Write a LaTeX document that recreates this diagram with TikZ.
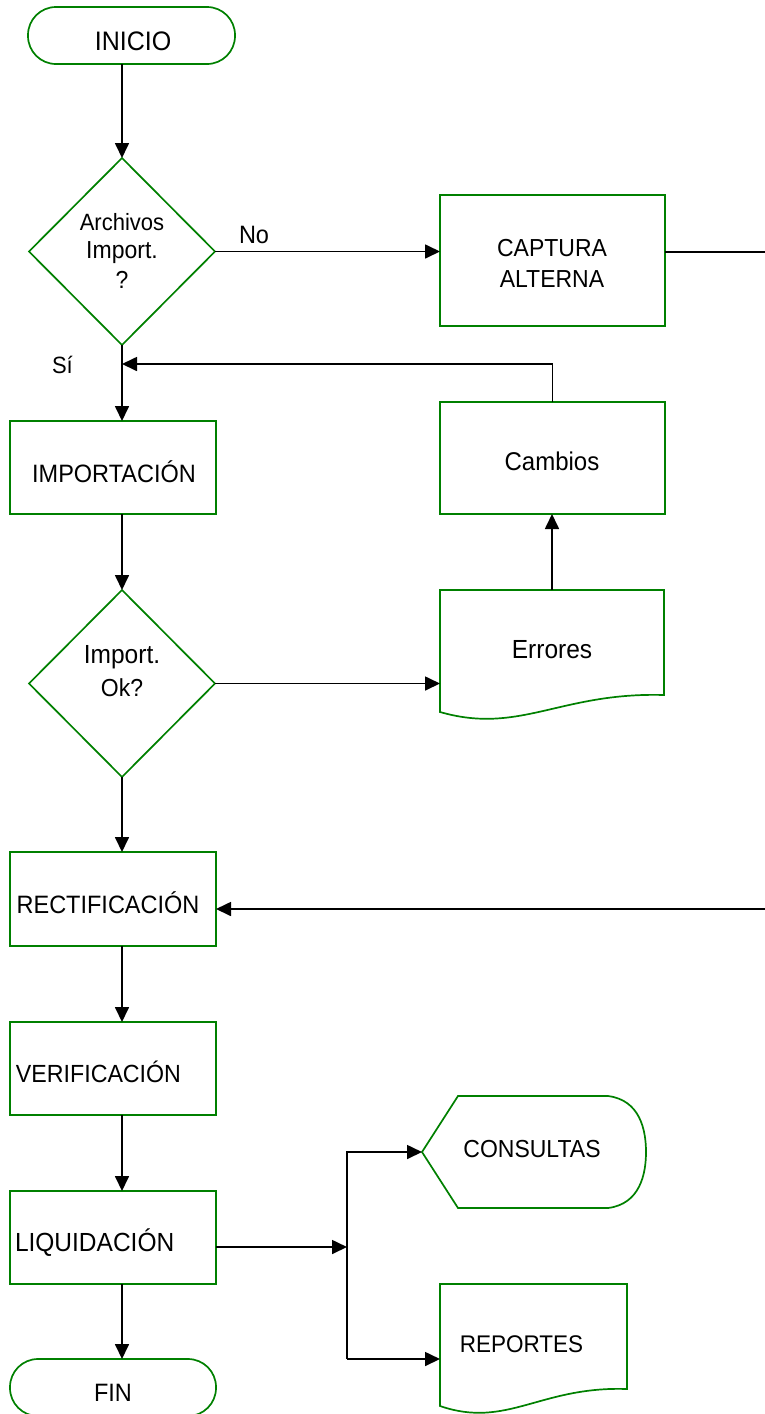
\documentclass[tikz,border=0pt]{standalone}
\usepackage{fontspec}
\setmainfont{Liberation Sans}
\usetikzlibrary{arrows.meta,shapes.geometric,calc}
\definecolor{fgreen}{RGB}{0,128,0}
\newcommand\vtext[1]{\scalebox{1}[1.07]{#1}}
\begin{document}
\begin{tikzpicture}[x=1pt,y=-1pt,
  gline/.style={draw=fgreen, line width=1.7pt, line join=miter},
  gbox/.style={draw=fgreen, line width=1.7pt, inner sep=0pt, outer sep=0pt, rectangle},
  gdia/.style={draw=fgreen, line width=1.7pt, inner sep=0pt, outer sep=0pt, diamond, minimum width=186pt, minimum height=187pt},
  term/.style={gbox, rounded corners=28pt, minimum height=57pt},
  ghost/.style={inner sep=0pt, outer sep=0pt, rectangle},
  tx/.style={font=\fontsize{#1pt}{#1pt}\selectfont, inner sep=0pt, outer sep=0pt, anchor=base},
  conn/.style={draw=black, line width=1.7pt},
  arr/.style={conn, -{Triangle[length=15pt,width=14pt]}}]
\useasboundingbox (0,0) rectangle (765,1414);
\clip (0,0) rectangle (765,1414);

% shapes
\node[term, minimum width=207pt] (ini) at (131.5,35.5) {};
\node[gdia] (d1) at (122,251.5) {};
\node[gbox, minimum width=225pt, minimum height=131pt] (cap) at (552.5,260.5) {};
\node[gbox, minimum width=206pt, minimum height=93pt] (imp) at (113,467.5) {};
\node[gbox, minimum width=225pt, minimum height=112pt] (cam) at (552.5,458) {};
\node[gdia] (d2) at (122,683.5) {};
\node[ghost, minimum width=224pt, minimum height=105pt] (err) at (552,642.5) {};
\draw[gline] (err.south east) -- (err.north east) -- (err.north west) -- ($(err.south west)+(0,17)$)
  .. controls ($(err.south west)+(80,40)$) and ($(err.south west)+(120,-3)$) .. (err.south east) -- cycle;
\node[gbox, minimum width=206pt, minimum height=94pt] (rect) at (113,899) {};
\node[gbox, minimum width=206pt, minimum height=93pt] (ver) at (113,1068.5) {};
\node[gbox, minimum width=206pt, minimum height=93pt] (liq) at (113,1237.5) {};
\node[ghost, minimum width=224pt, minimum height=112pt] (con) at (534,1152) {};
\draw[gline] (con.west) -- ($(con.north west)+(36,0)$) -- ($(con.north east)+(-38,0)$)
  .. controls ($(con.north east)+(-6,4)$) and ($(con.east)+(0,-22)$) .. (con.east)
  .. controls ($(con.east)+(0,22)$) and ($(con.south east)+(-6,-4)$) .. ($(con.south east)+(-38,0)$)
  -- ($(con.south west)+(36,0)$) -- cycle;
\node[ghost, minimum width=187pt, minimum height=105pt] (rep) at (533.5,1336.5) {};
\draw[gline] (rep.south east) -- (rep.north east) -- (rep.north west) -- ($(rep.south west)+(0,17)$)
  .. controls ($(rep.south west)+(67,40)$) and ($(rep.south west)+(100,-3)$) .. (rep.south east) -- cycle;
\node[term, minimum width=206pt] (fin) at (113,1387.5) {};

% texts
\node[tx=25] (tIni) at (133,50) {\vtext{INICIO}};
\node[tx=22] (tD1a) at (122,230) {\vtext{Archivos}};
\node[tx=23] (tD1b) at (122,258) {\vtext{Import.}};
\node[tx=23] (tD1c) at (122,288) {\vtext{?}};
\node[tx=23.5, anchor=base west] (tNo) at (239,243) {\vtext{No}};
\node[tx=23] (tCap1) at (552,256) {\vtext{CAPTURA}};
\node[tx=23] (tCap2) at (552,287) {\vtext{ALTERNA}};
\node[tx=22, anchor=base west] (tSi) at (52,373) {\vtext{Sí}};
\node[tx=23.5] (tImp) at (114,482) {\vtext{IMPORTACIÓN}};
\node[tx=24] (tCam) at (552,470) {\vtext{Cambios}};
\node[tx=24.5] (tD2a) at (122,663) {\vtext{Import.}};
\node[tx=23] (tD2b) at (122,696) {\vtext{Ok?}};
\node[tx=24.5] (tErr) at (552,658) {\vtext{Errores}};
\node[tx=23.5] (tRect) at (108,913) {\vtext{RECTIFICACIÓN}};
\node[tx=23.2, anchor=base west] (tVer) at (16,1082) {\vtext{VERIFICACIÓN}};
\node[tx=24.5, anchor=base west] (tLiq) at (15,1251) {\vtext{LIQUIDACIÓN}};
\node[tx=23] (tCon) at (532,1157) {\vtext{CONSULTAS}};
\node[tx=22.5] (tRep) at (521.5,1352) {\vtext{REPORTES}};
\node[tx=23.5] (tFin) at (113,1401) {\vtext{FIN}};

% connectors
\coordinate (rtop) at (765,252);
\coordinate (j1) at (122,364);
\coordinate (rbot) at (765,909);
\coordinate (j2) at (347,1247);
\coordinate (j3) at (347,1359);
\draw[arr] (ini.south -| d1.north) -- (d1.north);
\draw[arr] (d1.east) -- (d1.east -| cap.west);
\draw[conn] (cap.east |- rtop) -- (rtop);
\draw[arr] (d1.south) -- (d1.south |- imp.north);
\draw[arr] (cam.north) |- (j1);
\draw[arr] (d2.north |- imp.south) -- (d2.north);
\draw[arr] (d2.east) -- (d2.east -| err.west);
\draw[arr] (err.north) -- (err.north |- cam.south);
\draw[arr] (d2.south) -- (d2.south |- rect.north);
\draw[arr] (rbot) -- (rbot -| rect.east);
\draw[arr] (rect.south -| d2.south) -- (ver.north -| d2.south);
\draw[arr] (ver.south -| d2.south) -- (liq.north -| d2.south);
\draw[arr] (liq.east |- j2) -- (j2);
\draw[arr] (j2) |- (con.west);
\draw[conn] (j2) -- (j3);
\draw[arr] (j3) -- (j3 -| rep.west);
\draw[arr] (liq.south -| d2.south) -- (fin.north -| d2.south);
\end{tikzpicture}
\end{document}
